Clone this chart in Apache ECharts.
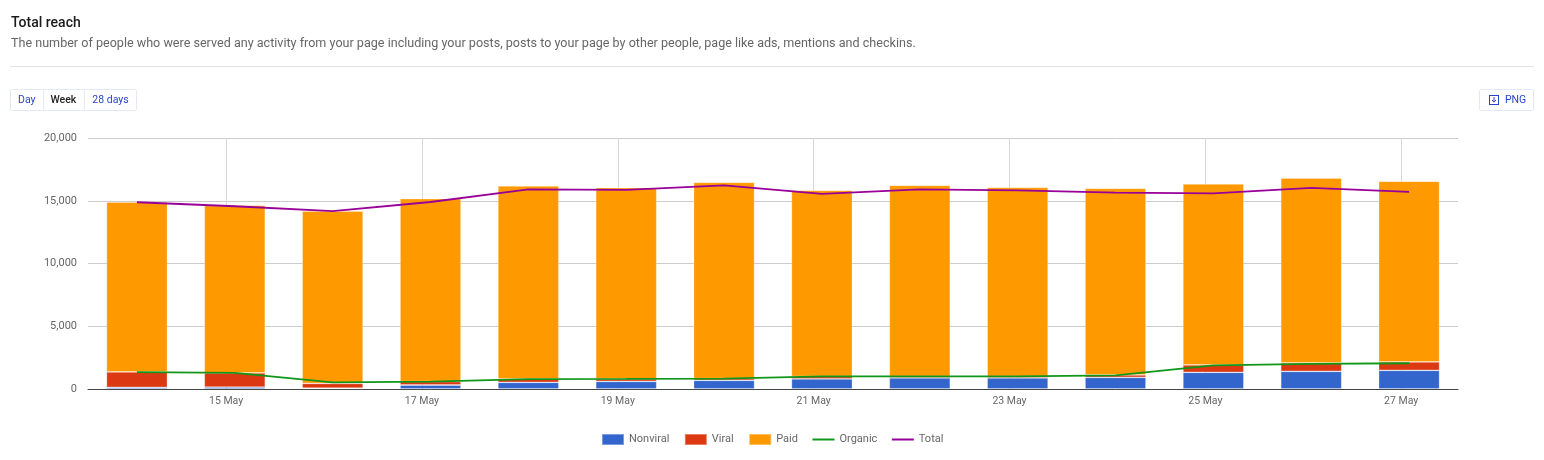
<!DOCTYPE html>
<html>
<head>
<meta charset="utf-8">
<title>Total reach</title>
<script src="https://cdn.jsdelivr.net/npm/echarts@6/dist/echarts.min.js"></script>
<style>
  html, body { margin: 0; padding: 0; background: #fff; }
  body { width: 1544px; height: 460px; position: relative; overflow: hidden; font-family: Roboto, sans-serif; }
  #chart { position: absolute; left: 0; top: 0; width: 1544px; height: 460px; }
  .title { position: absolute; left: 11px; top: 14px; font-size: 14px; font-weight: 500; color: #1a1a1a; line-height: 17px; }
  .desc { position: absolute; left: 11px; top: 35px; font-size: 12.58px; color: #666; line-height: 16px; white-space: nowrap; }
  .rule { position: absolute; left: 10px; top: 66px; width: 1524px; height: 1px; background: #e2e2e2; }
  .btns { position: absolute; left: 10px; top: 89px; height: 20px; display: flex; border: 1px solid #e4e7f5; border-radius: 2px; font-size: 10.5px; line-height: 20px; color: #2a45c8; }
  .btns span { padding: 0 7px; border-left: 1px solid #e4e7f5; }
  .btns span:first-child { border-left: 0; }
  .btns .on { color: #222; font-weight: 500; padding-right: 8px; }
  .png { position: absolute; left: 1479px; top: 89px; width: 53px; height: 20px; border: 1px solid #e4e7f5; border-radius: 2px; font-size: 10.5px; line-height: 20px; color: #2a45c8; }
  .png svg { position: absolute; left: 9px; top: 5px; }
  .png b { position: absolute; left: 25px; font-weight: 400; }
</style>
</head>
<body>
<div id="chart"></div>
<div class="title">Total reach</div>
<div class="desc">The number of people who were served any activity from your page including your posts, posts to your page by other people, page like ads, mentions and checkins.</div>
<div class="rule"></div>
<div class="btns"><span>Day</span><span class="on">Week</span><span>28 days</span></div>
<div class="png"><svg width="10" height="10" viewBox="0 0 10 10"><rect x="0.5" y="0.5" width="9" height="9" fill="none" stroke="#2a45c8"/><path d="M5 2v4M3 5l2 2.2L7 5" fill="none" stroke="#2a45c8"/></svg><b>PNG</b></div>
<script>
var days = ['14 May', '15 May', '16 May', '17 May', '18 May', '19 May', '20 May', '21 May', '22 May', '23 May', '24 May', '25 May', '26 May', '27 May'];
// date labels sit a little before the bars, so they get their own axis in days of May
var labelDays = [15, 17, 19, 21, 23, 25, 27];
var yTicks = [0, 5000, 10000, 15000, 20000];

var nonviral = [130, 150, 70, 320, 530, 610, 690, 800, 880, 880, 930, 1330, 1410, 1490];
var viral = [1230, 1130, 380, 270, 270, 190, 140, 200, 120, 120, 190, 585, 665, 665];
var paid = [13540, 13360, 13730, 14580, 15380, 15250, 15640, 14830, 15230, 15070, 14870, 14425, 14735, 14395];
var organic = [1350, 1280, 530, 590, 790, 800, 830, 1000, 1000, 1000, 1090, 1890, 2000, 2050];
var total = [14880, 14560, 14180, 14900, 15910, 15870, 16230, 15550, 15910, 15830, 15650, 15590, 16020, 15700];

function barSeries(name, values, color) {
  return {
    name: name,
    type: 'bar',
    stack: 'reach',
    barWidth: 61,
    data: values,
    itemStyle: { color: color, borderColor: 'rgba(255,255,255,0.35)', borderWidth: 0.8 }
  };
}

function lineSeries(name, values, color) {
  return {
    name: name,
    type: 'line',
    showSymbol: false,
    symbol: 'none',
    z: 5,
    data: values,
    lineStyle: { color: color, width: 1.8 },
    itemStyle: { color: color }
  };
}

var lineIcon = 'path://M0 0H22V2H0Z';

var chart = echarts.init(document.getElementById('chart'));
chart.setOption({
  animation: false,
  textStyle: { fontFamily: 'Roboto' },
  grid: { left: 88, right: 86, top: 138, bottom: 71 },
  legend: {
    top: 433,
    left: 601,
    padding: 0,
    itemWidth: 22,
    itemHeight: 11,
    itemGap: 14.5,
    textStyle: { color: '#666', fontSize: 11, fontFamily: 'Roboto' },
    data: [
      { name: 'Nonviral', icon: 'rect' },
      { name: 'Viral', icon: 'rect' },
      { name: 'Paid', icon: 'rect' },
      { name: 'Organic', icon: lineIcon },
      { name: 'Total', icon: lineIcon }
    ]
  },
  xAxis: [
    {
      type: 'category',
      data: days,
      axisLine: { show: true, lineStyle: { color: '#444', width: 1 } },
      axisTick: { show: false },
      axisLabel: { show: false },
      splitLine: { show: false }
    },
    {
      type: 'value',
      position: 'bottom',
      min: 13.59,
      max: 27.58,
      axisLine: { show: false },
      axisTick: { show: false, customValues: labelDays },
      axisLabel: {
        customValues: labelDays,
        color: '#666',
        fontSize: 10.5,
        margin: 7,
        formatter: function (v) { return v + ' May'; }
      },
      splitLine: { show: true, lineStyle: { color: '#d8d8d8', width: 1 } }
    }
  ],
  yAxis: {
    type: 'value',
    min: yTicks[0],
    max: yTicks[yTicks.length - 1],
    interval: yTicks[1] - yTicks[0],
    axisLine: { show: false },
    axisTick: { show: false },
    axisLabel: {
      color: '#666',
      fontSize: 11,
      margin: 11,
      formatter: function (v) { return v.toLocaleString('en-US'); }
    },
    splitLine: { lineStyle: { color: '#ccc', width: 1 } }
  },
  series: [
    barSeries('Nonviral', nonviral, '#3366cc'),
    barSeries('Viral', viral, '#dc3912'),
    barSeries('Paid', paid, '#ff9900'),
    lineSeries('Organic', organic, '#109618'),
    lineSeries('Total', total, '#990099')
  ]
});
</script>
</body>
</html>
